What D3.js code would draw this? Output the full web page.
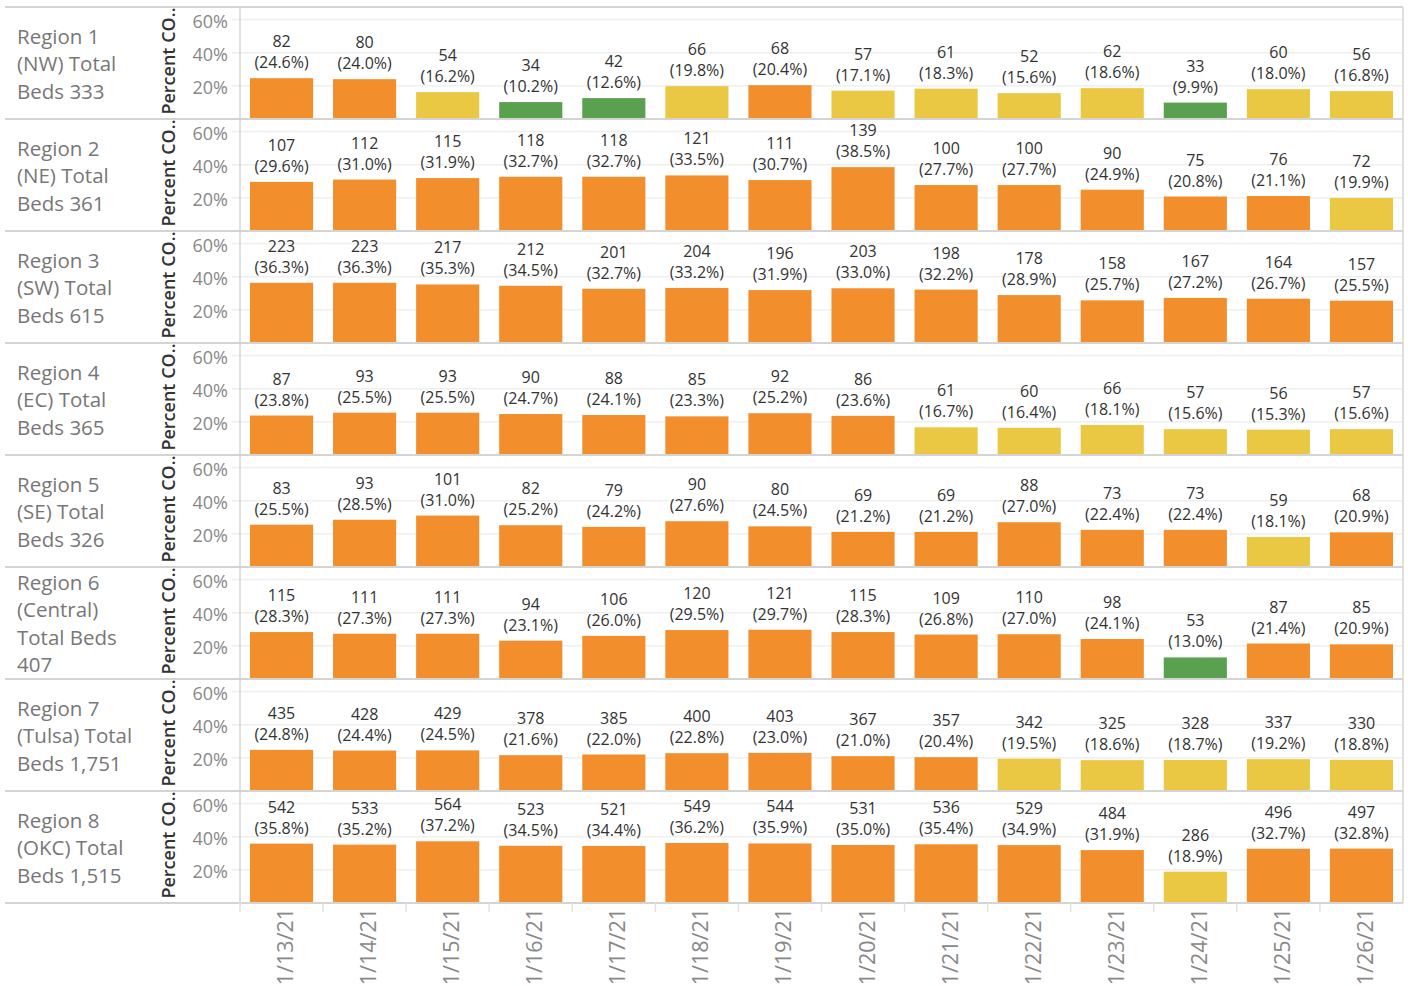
<!DOCTYPE html>
<html>
<head>
<meta charset="utf-8">
<script src="https://cdn.jsdelivr.net/npm/d3@7"></script>
<style>
  html, body { margin: 0; padding: 0; background: #fff; }
  svg { display: block; font-family: "Open Sans", "Noto Sans", sans-serif; }
</style>
</head>
<body>
<svg id="chart" width="1408" height="986"></svg>
<script>
const dates = ["1/13/21","1/14/21","1/15/21","1/16/21","1/17/21","1/18/21","1/19/21","1/20/21","1/21/21","1/22/21","1/23/21","1/24/21","1/25/21","1/26/21"];
const regionLabels = [
  "Region 1|(NW) Total|Beds 333",
  "Region 2|(NE) Total|Beds 361",
  "Region 3|(SW) Total|Beds 615",
  "Region 4|(EC) Total|Beds 365",
  "Region 5|(SE) Total|Beds 326",
  "Region 6|(Central)|Total Beds|407",
  "Region 7|(Tulsa) Total|Beds 1,751",
  "Region 8|(OKC) Total|Beds 1,515"
];
const counts = [
  [82,80,54,34,42,66,68,57,61,52,62,33,60,56],
  [107,112,115,118,118,121,111,139,100,100,90,75,76,72],
  [223,223,217,212,201,204,196,203,198,178,158,167,164,157],
  [87,93,93,90,88,85,92,86,61,60,66,57,56,57],
  [83,93,101,82,79,90,80,69,69,88,73,73,59,68],
  [115,111,111,94,106,120,121,115,109,110,98,53,87,85],
  [435,428,429,378,385,400,403,367,357,342,325,328,337,330],
  [542,533,564,523,521,549,544,531,536,529,484,286,496,497]
];
const percents = [
  [24.6,24.0,16.2,10.2,12.6,19.8,20.4,17.1,18.3,15.6,18.6,9.9,18.0,16.8],
  [29.6,31.0,31.9,32.7,32.7,33.5,30.7,38.5,27.7,27.7,24.9,20.8,21.1,19.9],
  [36.3,36.3,35.3,34.5,32.7,33.2,31.9,33.0,32.2,28.9,25.7,27.2,26.7,25.5],
  [23.8,25.5,25.5,24.7,24.1,23.3,25.2,23.6,16.7,16.4,18.1,15.6,15.3,15.6],
  [25.5,28.5,31.0,25.2,24.2,27.6,24.5,21.2,21.2,27.0,22.4,22.4,18.1,20.9],
  [28.3,27.3,27.3,23.1,26.0,29.5,29.7,28.3,26.8,27.0,24.1,13.0,21.4,20.9],
  [24.8,24.4,24.5,21.6,22.0,22.8,23.0,21.0,20.4,19.5,18.6,18.7,19.2,18.8],
  [35.8,35.2,37.2,34.5,34.4,36.2,35.9,35.0,35.4,34.9,31.9,18.9,32.7,32.8]
];
const yTicks = [20, 40, 60];
const yAxisTitle = "Percent CO..";

const svg = d3.select("#chart");
const top0 = 7, rowH = 112, plotL = 240, plotR = 1403, leftEdge = 5;
const nRows = regionLabels.length;
const bottom = top0 + rowH * nRows;

const x = d3.scaleBand().domain(dates).range([plotL, plotR]).paddingInner(0.24).paddingOuter(0.12);
const color = d3.scaleThreshold().domain([15, 20]).range(["#59A14F", "#EBC844", "#F28E2B"]);

const rows = svg.selectAll("g.row").data(regionLabels).join("g").attr("class", "row");

rows.each(function(label, i) {
  const g = d3.select(this);
  const rb = top0 + rowH * (i + 1);
  const rc = top0 + rowH * i + rowH / 2;
  const y = d3.scaleLinear().domain([0, 60]).range([rb, rb - 99.5]);

  g.selectAll("line.grid").data(yTicks).join("line")
    .attr("x1", 232).attr("x2", plotR)
    .attr("y1", d => y(d)).attr("y2", d => y(d))
    .attr("stroke", "#efefef").attr("stroke-width", 1.5);

  g.selectAll("text.tick").data(yTicks).join("text")
    .attr("x", 228).attr("y", d => y(d) + 1)
    .attr("text-anchor", "end").attr("dominant-baseline", "central")
    .attr("font-size", 18).attr("fill", "#888")
    .text(d => d + "%");

  g.append("text")
    .attr("transform", `translate(168,${rc - 2}) rotate(-90)`)
    .attr("text-anchor", "middle").attr("dominant-baseline", "central")
    .attr("font-size", 18).attr("font-weight", 600).attr("fill", "#333")
    .text(yAxisTitle);

  const lines = label.split("|");
  const lh = 27.5;
  g.append("text")
    .attr("font-size", 20.5).attr("fill", "#777")
    .selectAll("tspan").data(lines).join("tspan")
    .attr("x", 17)
    .attr("y", (d, k) => rc + (k - (lines.length - 1) / 2) * lh)
    .attr("dominant-baseline", "central")
    .text(d => d);

  const vals = dates.map((d, j) => ({ date: d, c: counts[i][j], p: percents[i][j] }));

  g.selectAll("rect.bar").data(vals).join("rect")
    .attr("x", d => x(d.date)).attr("width", x.bandwidth())
    .attr("y", d => y(d.p)).attr("height", d => rb - y(d.p))
    .attr("fill", d => color(d.p));

  g.selectAll("text.cnt").data(vals).join("text")
    .attr("x", d => x(d.date) + x.bandwidth() / 2)
    .attr("y", d => y(d.p) - 37)
    .attr("text-anchor", "middle").attr("dominant-baseline", "central")
    .attr("font-size", 16).attr("fill", "#333")
    .text(d => d.c);

  g.selectAll("text.pct").data(vals).join("text")
    .attr("x", d => x(d.date) + x.bandwidth() / 2)
    .attr("y", d => y(d.p) - 16)
    .attr("text-anchor", "middle").attr("dominant-baseline", "central")
    .attr("font-size", 16).attr("fill", "#333")
    .text(d => "(" + d.p.toFixed(1) + "%)");
});

const seps = d3.range(nRows + 1).map(k => top0 + rowH * k);
svg.selectAll("line.sep").data(seps).join("line")
  .attr("x1", leftEdge).attr("x2", plotR)
  .attr("y1", d => d).attr("y2", d => d)
  .attr("stroke", "#d4d4d4").attr("stroke-width", 2);

svg.append("line").attr("x1", plotL).attr("x2", plotL).attr("y1", top0).attr("y2", bottom)
  .attr("stroke", "#d4d4d4").attr("stroke-width", 1.5);
svg.append("line").attr("x1", plotR).attr("x2", plotR).attr("y1", top0).attr("y2", bottom)
  .attr("stroke", "#d4d4d4").attr("stroke-width", 1.5);

const bounds = d3.range(dates.length).map(k => plotL + k * (plotR - plotL) / dates.length);
svg.selectAll("line.ctick").data(bounds).join("line")
  .attr("x1", d => d).attr("x2", d => d).attr("y1", bottom).attr("y2", bottom + 9)
  .attr("stroke", "#e2e2e2").attr("stroke-width", 1.5);

svg.selectAll("text.xl").data(dates).join("text")
  .attr("transform", d => `translate(${x(d) + x.bandwidth() / 2 + 3},${bottom + 5}) rotate(-90)`)
  .attr("text-anchor", "end").attr("dominant-baseline", "central")
  .attr("font-size", 21.5).attr("fill", "#888")
  .text(d => d);
</script>
</body>
</html>
